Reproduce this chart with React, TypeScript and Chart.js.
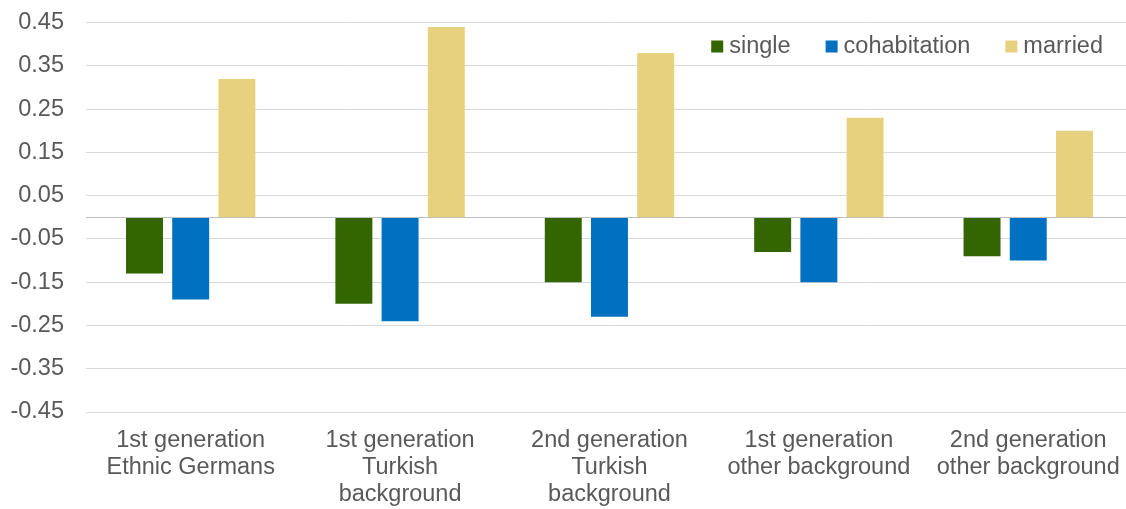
import React, { useEffect, useRef } from "react";
import { Chart, registerables } from "chart.js";

Chart.register(...registerables);

const categories: string[][] = [
  ["1st generation", "Ethnic Germans"],
  ["1st generation", "Turkish", "background"],
  ["2nd generation", "Turkish", "background"],
  ["1st generation", "other background"],
  ["2nd generation", "other background"],
];
const seriesNames = ["single", "cohabitation", "married"];
const singleValues = [-0.13, -0.2, -0.15, -0.08, -0.09];
const cohabitationValues = [-0.19, -0.24, -0.23, -0.15, -0.1];
const marriedValues = [0.32, 0.44, 0.38, 0.23, 0.2];
const yMin = -0.45;
const yMax = 0.45;
const yStep = 0.1;

const FONT = "'Liberation Sans', Arial, sans-serif";
const TEXT = "#595959";
const FS = 23.5;

const zeroLinePlugin = {
  id: "zeroLine",
  afterDatasetsDraw(chart: any) {
    const { ctx, chartArea, scales } = chart;
    const y = Math.round(scales.y.getPixelForValue(0)) + 0.5;
    ctx.save();
    ctx.strokeStyle = "#BFBFBF";
    ctx.lineWidth = 1.2;
    ctx.beginPath();
    ctx.moveTo(chartArea.left, y);
    ctx.lineTo(chartArea.right, y);
    ctx.stroke();
    ctx.restore();
  },
};

const legendPlugin = {
  id: "customLegend",
  afterDraw(chart: any) {
    const { ctx } = chart;
    const ds = chart.data.datasets;
    const right = 1103;
    const baseline = 52.5;
    const box = 12;
    const gapBoxText = 6;
    const gapItems = 35;
    ctx.save();
    ctx.font = `${FS}px ${FONT}`;
    ctx.textBaseline = "alphabetic";
    ctx.textAlign = "left";
    let x = right;
    for (let i = ds.length - 1; i >= 0; i--) {
      const label = ds[i].label;
      const w = ctx.measureText(label).width;
      const textX = x - w;
      const boxX = textX - gapBoxText - box;
      ctx.fillStyle = ds[i].backgroundColor;
      ctx.fillRect(boxX, baseline - box, box, box);
      ctx.fillStyle = TEXT;
      ctx.fillText(label, textX, baseline);
      x = boxX - gapItems;
    }
    ctx.restore();
  },
};

export default function App() {
  const ref = useRef<HTMLCanvasElement | null>(null);
  useEffect(() => {
    if (!ref.current) return;
    const chart = new Chart(ref.current, {
      type: "bar",
      data: {
        labels: categories,
        datasets: [
          { label: seriesNames[0], data: singleValues, backgroundColor: "#336600" },
          { label: seriesNames[1], data: cohabitationValues, backgroundColor: "#0070C0" },
          { label: seriesNames[2], data: marriedValues, backgroundColor: "#E7D17E" },
        ],
      },
      options: {
        responsive: false,
        animation: false,
        devicePixelRatio: 1,
        layout: { padding: { top: 22.7, left: 0, right: 0, bottom: 0 } },
        plugins: {
          legend: { display: false },
          tooltip: { enabled: false },
        },
        datasets: {
          bar: { categoryPercentage: 0.662, barPercentage: 0.8 },
        },
        scales: {
          x: {
            grid: { display: false, drawTicks: false },
            border: { display: false },
            ticks: {
              color: TEXT,
              font: { family: FONT, size: FS, lineHeight: 1.14 },
              padding: 15.3,
              maxRotation: 0,
              autoSkip: false,
            },
            afterFit(scale: any) {
              scale.height = 97;
            },
          },
          y: {
            min: yMin,
            max: yMax,
            grid: { color: "#D9D9D9", lineWidth: 1, drawTicks: false },
            border: { display: false },
            ticks: {
              stepSize: yStep,
              color: TEXT,
              font: { family: FONT, size: FS },
              padding: 22,
              callback: (v: any) => Number(v).toFixed(2),
            },
            afterFit(scale: any) {
              scale.width = 86;
              scale.paddingTop = 0;
              scale.paddingBottom = 0;
            },
          },
        },
      },
      plugins: [zeroLinePlugin, legendPlugin],
    });
    return () => chart.destroy();
  }, []);
  return (
    <div
      style={{
        position: "fixed",
        left: 0,
        top: 0,
        width: 1126,
        height: 509,
        overflow: "hidden",
        background: "#fff",
      }}
    >
      <canvas ref={ref} width={1135} height={509} style={{ display: "block" }} />
    </div>
  );
}
